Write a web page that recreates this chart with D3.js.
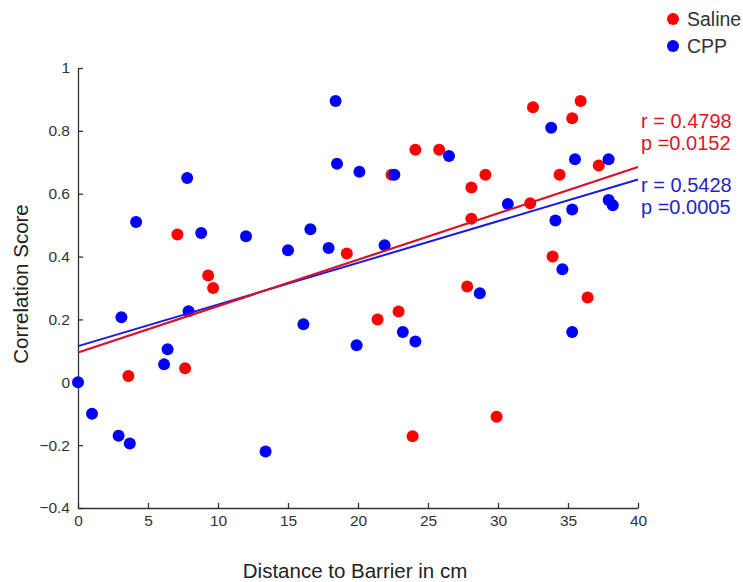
<!DOCTYPE html>
<html>
<head>
<meta charset="utf-8">
<script src="https://cdn.jsdelivr.net/npm/d3@7"></script>
<style>
  body { margin: 0; background: #fff; }
  svg { font-family: "Liberation Sans", Arial, sans-serif; }
</style>
</head>
<body>
<svg id="chart"></svg>
<script>
// data
var salineX = [3.6, 7.1, 7.65, 9.3, 9.65, 19.2, 21.4, 22.4, 22.9, 23.9, 24.1, 25.8, 27.8, 28.1, 28.1, 29.1, 29.9, 32.3, 32.5, 33.9, 34.4, 35.3, 35.9, 36.4, 37.2];
var salineY = [0.02, 0.47, 0.045, 0.34, 0.30, 0.41, 0.20, 0.66, 0.225, -0.172, 0.74, 0.74, 0.305, 0.62, 0.52, 0.66, -0.11, 0.57, 0.875, 0.40, 0.66, 0.84, 0.895, 0.27, 0.69];

var cppX = [0, 1.0, 2.9, 3.7, 3.1, 6.15, 6.4, 7.9, 4.15, 7.8, 8.8, 12.0, 18.4, 18.5, 20.1, 22.6, 15.0, 16.6, 17.9, 21.9, 13.4, 16.1, 19.9, 23.2, 24.1, 26.5, 30.7, 33.8, 35.5, 37.9, 35.3, 34.1, 37.9, 38.2, 28.7, 34.6, 35.3];
var cppY = [0, -0.1, -0.17, -0.195, 0.207, 0.057, 0.105, 0.226, 0.51, 0.65, 0.475, 0.465, 0.895, 0.695, 0.67, 0.66, 0.42, 0.487, 0.427, 0.436, -0.22, 0.185, 0.118, 0.16, 0.13, 0.72, 0.567, 0.81, 0.71, 0.71, 0.55, 0.515, 0.58, 0.563, 0.283, 0.36, 0.16];

// fitted lines [value at x=0, value at x=40]
var salineFit = [0.095, 0.685];
var cppFit = [0.115, 0.645];

var seriesNames = ['Saline', 'CPP'];
var statsSaline = ['r = 0.4798', 'p =0.0152'];
var statsCPP = ['r = 0.5428', 'p =0.0005'];

var xTicks = [0, 5, 10, 15, 20, 25, 30, 35, 40];
var yTicks = [-0.4, -0.2, 0, 0.2, 0.4, 0.6, 0.8, 1];

var W = 743, H = 582;
var margin = {top: 68, right: 105, bottom: 74, left: 78};

var svg = d3.select('#chart')
    .attr('width', W)
    .attr('height', H);

var x = d3.scaleLinear().domain([0, 40]).range([margin.left, W - margin.right]);
var y = d3.scaleLinear().domain([-0.4, 1]).range([H - margin.bottom, margin.top]);

var red = '#ff0000', blue = '#0000ff';

// axes, ticks inside like matlab
var xAxis = d3.axisBottom(x).tickValues(xTicks).tickSizeInner(-5).tickSizeOuter(0).tickPadding(7);
var yAxis = d3.axisLeft(y).tickValues(yTicks).tickSizeInner(-5).tickSizeOuter(0).tickPadding(8)
    .tickFormat(function(d) { return d3.format('')(+d.toFixed(1)); });

var gx = svg.append('g')
    .attr('transform', 'translate(0,' + (H - margin.bottom) + ')')
    .call(xAxis);
var gy = svg.append('g')
    .attr('transform', 'translate(' + margin.left + ',0)')
    .call(yAxis);

[gx, gy].forEach(function(g) {
  g.attr('font-size', 15.5).attr('font-family', '"Liberation Sans", Arial, sans-serif');
  g.select('.domain').attr('stroke', '#333').attr('stroke-width', 1.3);
  g.selectAll('.tick line').attr('stroke', '#333').attr('stroke-width', 1.3);
  g.selectAll('.tick text').attr('fill', '#333');
});

// points
var saline = salineX.map(function(d, i) { return [d, salineY[i]]; });
var cpp = cppX.map(function(d, i) { return [d, cppY[i]]; });

svg.append('g').selectAll('circle')
    .data(saline).enter().append('circle')
    .attr('cx', function(d) { return x(d[0]); })
    .attr('cy', function(d) { return y(d[1]); })
    .attr('r', 6)
    .attr('fill', red);

svg.append('g').selectAll('circle')
    .data(cpp).enter().append('circle')
    .attr('cx', function(d) { return x(d[0]); })
    .attr('cy', function(d) { return y(d[1]); })
    .attr('r', 6)
    .attr('fill', blue);

// regression lines
var line = d3.line().x(function(d) { return x(d[0]); }).y(function(d) { return y(d[1]); });

svg.append('path')
    .datum([[0, cppFit[0]], [40, cppFit[1]]])
    .attr('d', line).attr('fill', 'none')
    .attr('stroke', '#1a1ae0').attr('stroke-width', 2);
svg.append('path')
    .datum([[0, salineFit[0]], [40, salineFit[1]]])
    .attr('d', line).attr('fill', 'none')
    .attr('stroke', '#d8102a').attr('stroke-width', 2.2);

// stats text
var statsG = svg.append('g').attr('font-size', 20);
statsG.selectAll('.s1').data(statsSaline).enter().append('text')
    .attr('x', 641).attr('y', function(d, i) { return 128 + i * 22; })
    .attr('fill', '#d81828').text(function(d) { return d; });
statsG.selectAll('.s2').data(statsCPP).enter().append('text')
    .attr('x', 641).attr('y', function(d, i) { return 192 + i * 22; })
    .attr('fill', '#2525c0').text(function(d) { return d; });

// legend
var legend = svg.append('g');
seriesNames.forEach(function(name, i) {
  var ly = 19 + i * 27;
  legend.append('circle').attr('cx', 673).attr('cy', ly).attr('r', 6)
      .attr('fill', i === 0 ? red : blue);
  legend.append('text').attr('x', 687).attr('y', ly + 7)
      .attr('font-size', 19.5).attr('fill', '#333').text(name);
});

// axis titles
svg.append('text')
    .attr('x', 355).attr('y', 578)
    .attr('text-anchor', 'middle').attr('font-size', 20.5).attr('fill', '#222')
    .text('Distance to Barrier in cm');
svg.append('text')
    .attr('transform', 'translate(28,284) rotate(-90)')
    .attr('text-anchor', 'middle').attr('font-size', 20.5).attr('fill', '#222')
    .text('Correlation Score');
</script>
</body>
</html>
